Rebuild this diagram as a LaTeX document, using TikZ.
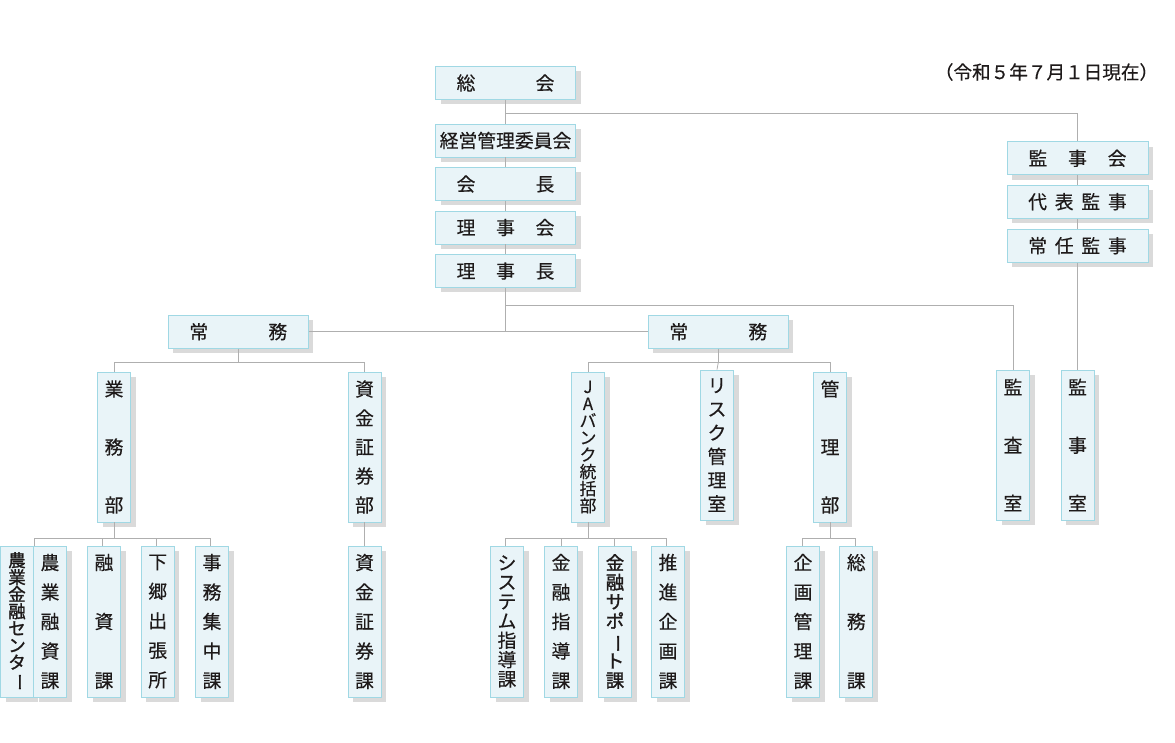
\documentclass[tikz,border=0pt]{standalone}
\usepackage{fontspec}
\usepackage{graphicx}
\setmainfont{Noto Sans CJK JP}[FakeBold=0.35]
\newfontfamily\jpbold{Noto Sans CJK JP}[FakeBold=1.4]
\usetikzlibrary{shadows}
\definecolor{boxfill}{RGB}{233,244,248}
\definecolor{boxline}{RGB}{160,216,228}
\definecolor{shadegray}{RGB}{218,218,218}
\definecolor{conncol}{RGB}{175,175,175}
\definecolor{inkcol}{RGB}{30,26,26}
\newcommand{\vbar}{\rotatebox[origin=c]{-90}{ー}}
\newcommand{\vf}[2]{\fontsize{#1}{#2}\selectfont}
\begin{document}
\begin{tikzpicture}[x=1pt,y=-1pt,
  box/.style={draw=boxline, fill=boxfill, line width=0.8pt, inner sep=0pt, text=inkcol,
    drop shadow={shadow xshift=5pt, shadow yshift=-5pt, fill=shadegray, opacity=1}},
  hbox/.style={box, minimum width=140pt, minimum height=33pt, font=\vf{18.8}{20}},
  vbox/.style={box, minimum width=33pt, minimum height=150pt, align=center},
  lbox/.style={box, minimum width=33pt, minimum height=151pt, align=center},
  conn/.style={draw=conncol, line width=0.8pt}
]
\useasboundingbox (0,0) rectangle (1175,743);

% date
\node[font=\vf{18.6}{20}, text=inkcol] (date) at (1046.5,72) {（令和５年７月１日現在）};

% top column
\node[hbox] (sokai) at (505.5,83) {総\hspace{60.2pt}会};
\node[hbox] (keiei) at (505.5,140.5) {経営管理委員会};
\node[hbox] (kaicho) at (505.5,184) {会\hspace{60.2pt}長};
\node[hbox] (rijikai) at (505.5,227.5) {理\hspace{20.7pt}事\hspace{20.7pt}会};
\node[hbox] (rijicho) at (505.5,271) {理\hspace{20.7pt}事\hspace{20.7pt}長};

% auditors
\node[hbox, minimum width=141pt] (kanjikai) at (1077.5,158.3) {監\hspace{20.8pt}事\hspace{20.8pt}会};
\node[hbox, minimum width=141pt] (daihyo) at (1077.5,201.7) {代\hspace{7.8pt}表\hspace{7.8pt}監\hspace{7.8pt}事};
\node[hbox, minimum width=141pt] (jonin) at (1077.5,245.7) {常\hspace{7.8pt}任\hspace{7.8pt}監\hspace{7.8pt}事};

% managing directors
\node[hbox] (jomuL) at (238.3,331.7) {常\hspace{60.2pt}務};
\node[hbox] (jomuR) at (718.3,331.7) {常\hspace{60.2pt}務};

% departments
\node[vbox, font=\vf{18.8}{58}] (gyomu) at (114,447) {業\\務\\部};
\node[vbox, font=\vf{18.8}{29}] (shikinbu) at (364.5,447) {資\\金\\証\\券\\部};
\node[vbox, font=\vf{16.8}{17}] (ja) at (588,447) {J\\A\\バ\\ン\\ク\\統\\括\\部};
\node[vbox, font=\vf{18.8}{23.7}] (risk) at (717,445) {リ\\ス\\ク\\管\\理\\室};
\node[vbox, font=\vf{18.8}{58}] (kanribu) at (830,447) {管\\理\\部};
\node[vbox, font=\vf{18.8}{58}] (kansa) at (1013,445) {監\\査\\室};
\node[vbox, font=\vf{18.8}{58}] (kanjishitsu) at (1077.5,445) {監\\事\\室};

% sections
\node[lbox, minimum width=32.6pt, font=\jpbold\vf{17.5}{17}] (nkc) at (17,621.5) {農\\業\\金\\融\\セ\\ン\\タ\\\vbar};
\node[lbox, font=\vf{18.8}{29.5}] (nyk) at (50,621.5) {農\\業\\融\\資\\課};
\node[lbox, font=\vf{18.8}{59}] (yushi) at (104,621.5) {融\\資\\課};
\node[lbox, font=\vf{18.8}{29.5}] (shimogo) at (157.7,621.5) {下\\郷\\出\\張\\所};
\node[lbox, font=\vf{18.8}{29.5}] (jimu) at (212,621.5) {事\\務\\集\\中\\課};
\node[lbox, font=\vf{18.8}{29.5}] (shikinka) at (364.5,621.5) {資\\金\\証\\券\\課};
\node[lbox, font=\vf{18.8}{19.4}] (system) at (507,621.5) {シ\\ス\\テ\\ム\\指\\導\\課};
\node[lbox, font=\vf{18.8}{29.5}] (kshido) at (561,621.5) {金\\融\\指\\導\\課};
\node[lbox, font=\jpbold\vf{18.5}{19.4}] (ksupport) at (615,621.5) {金\\融\\サ\\ポ\\\vbar\\ト\\課};
\node[lbox, font=\vf{18.8}{29.5}] (suishin) at (668,621.5) {推\\進\\企\\画\\課};
\node[lbox, font=\vf{18.8}{29.5}] (kikaku) at (803,621.5) {企\\画\\管\\理\\課};
\node[lbox, font=\vf{18.8}{59}] (somu) at (856.3,621.5) {総\\務\\課};

% junction coordinates
\coordinate (b1) at (505.5,113.3);
\coordinate (b2) at (505.5,305.7);
\coordinate (j1) at (505.5,331.7);
\coordinate (h1) at (238.3,362.3);
\coordinate (h2) at (718.3,362.3);
\coordinate (h3) at (114,538.3);
\coordinate (h4) at (588,538.3);
\coordinate (h5) at (830,538.3);

% connectors
\draw[conn] (sokai) -- (keiei);
\draw[conn] (keiei) -- (kaicho);
\draw[conn] (kaicho) -- (rijikai);
\draw[conn] (rijikai) -- (rijicho);
\draw[conn] (b1) -| (kanjikai.north);
\draw[conn] (kanjikai) -- (daihyo);
\draw[conn] (daihyo) -- (jonin);
\draw[conn] (jonin.south) -- (kanjishitsu.north);
\draw[conn] (rijicho.south) -- (j1);
\draw[conn] (b2) -| (kansa.north);
\draw[conn] (jomuL.east) -- (jomuR.west);

\draw[conn] (jomuL.south) -- (h1);
\draw[conn] (gyomu.north) |- (h1) -| (shikinbu.north);
\draw[conn] (jomuR.south) -- (h2);
\draw[conn] (ja.north) |- (h2) -| (kanribu.north);
\draw[conn] (h2) -- (risk.north);

\draw[conn] (gyomu.south) -- (h3);
\draw[conn] ([xshift=1.5pt]nyk.north west) |- (h3) -| ([xshift=-2pt]jimu.north);
\draw[conn] ([xshift=-1.5pt]yushi.north) |- (h3);
\draw[conn] ([xshift=-1.5pt]shimogo.north) |- (h3);
\draw[conn] (shikinbu.south) -- (shikinka.north);

\draw[conn] (ja.south) -- (h4);
\draw[conn] ([xshift=-1.5pt]system.north) |- (h4) -| ([xshift=-1.5pt]suishin.north);
\draw[conn] (kshido.north) |- (h4);
\draw[conn] ([xshift=-1pt]ksupport.north) |- (h4);

\draw[conn] (kanribu.south) -- (h5);
\draw[conn] ([xshift=-1pt]kikaku.north) |- (h5) -| ([xshift=-1pt]somu.north);
\end{tikzpicture}
\end{document}
